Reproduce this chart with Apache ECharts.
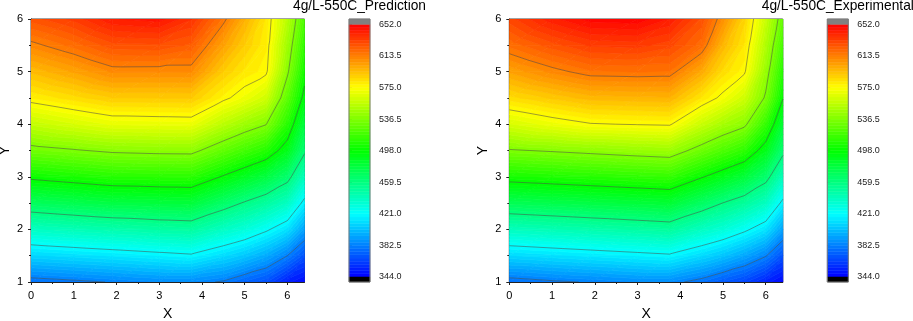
<!DOCTYPE html>
<html><head><meta charset="utf-8">
<script src="https://cdn.jsdelivr.net/npm/echarts@6/dist/echarts.min.js"></script>
<style>html,body{margin:0;padding:0;background:#fff}#c{width:913px;height:321px}</style>
</head><body><div id="c"></div>
<script>
// ---------------- data ----------------
const xNodes = [0, 1, 1.9, 3, 3.75, 4.5, 5, 5.5, 6, 6.4];
const yNodes = [1, 1.5, 2, 2.5, 3, 3.5, 4, 4.5, 5, 5.5, 6];
// rows follow yNodes (bottom to top), columns follow xNodes
const predictionValues = [
  [377.6, 380.3, 383.0, 386.0, 386.0, 381.3, 373.9, 367.8, 353.0, 347.0],
  [408.2, 411.1, 413.7, 417.0, 419.2, 410.4, 403.9, 395.5, 382.5, 368.5],
  [439.0, 442.5, 445.4, 448.4, 449.7, 438.5, 432.1, 423.2, 411.9, 392.6],
  [470.1, 473.9, 477.3, 479.1, 480.0, 466.7, 458.0, 449.9, 439.1, 416.7],
  [501.0, 505.0, 508.6, 509.7, 510.2, 496.6, 487.6, 478.6, 465.1, 440.3],
  [531.6, 535.3, 538.8, 540.2, 540.5, 526.5, 517.2, 508.2, 490.4, 462.3],
  [556.7, 562.9, 568.0, 568.8, 569.3, 554.0, 545.0, 537.1, 509.3, 477.8],
  [578.9, 584.9, 590.2, 590.4, 590.6, 577.5, 569.9, 560.8, 525.5, 493.3],
  [595.1, 602.6, 610.3, 610.1, 610.0, 590.3, 581.7, 577.0, 538.8, 503.7],
  [611.2, 619.0, 627.4, 628.2, 624.1, 603.0, 590.2, 579.5, 545.8, 511.9],
  [627.0, 634.0, 644.0, 646.0, 637.0, 616.0, 598.6, 582.0, 552.9, 520.0]
];
const experimentalValues = [
  [377.5, 380.9, 383.2, 386.1, 386.0, 378.3, 370.7, 364.3, 354.1, 346.0],
  [409.0, 411.8, 414.2, 417.1, 419.1, 409.8, 402.9, 394.2, 383.4, 368.2],
  [440.6, 443.2, 445.6, 448.6, 450.7, 439.3, 432.6, 423.8, 412.8, 392.9],
  [472.3, 474.9, 477.2, 479.9, 481.9, 468.4, 459.2, 451.1, 439.7, 417.5],
  [504.2, 506.5, 508.6, 511.3, 513.1, 499.2, 489.8, 480.6, 465.4, 441.4],
  [535.3, 537.8, 540.2, 543.1, 544.8, 530.2, 520.5, 511.0, 490.5, 463.8],
  [562.9, 569.4, 574.3, 575.6, 576.3, 558.3, 548.0, 539.7, 513.0, 481.6],
  [585.0, 591.2, 596.2, 597.1, 597.7, 582.1, 572.2, 560.5, 534.4, 498.8],
  [602.8, 610.9, 616.8, 617.5, 617.0, 600.5, 585.2, 576.6, 543.3, 508.5],
  [618.5, 627.2, 633.4, 634.3, 630.5, 619.0, 596.7, 582.2, 550.8, 518.3],
  [631.0, 643.0, 650.0, 651.0, 644.0, 628.0, 608.2, 587.7, 558.4, 528.0]
];
const xTickLabels = [0, 1, 2, 3, 4, 5, 6];
const yTickLabels = [1, 2, 3, 4, 5, 6];
const colorTickLabels = [344.0, 382.5, 421.0, 459.5, 498.0, 536.5, 575.0, 613.5, 652.0];
const titles = ['4g/L-550C_Prediction', '4g/L-550C_Experimental'];
const axisNames = ['X', 'Y'];

// ---------------- helpers ----------------
const FONT = "'Liberation Sans', Arial, Helvetica, sans-serif";
const LMIN = colorTickLabels[0], LMAX = colorTickLabels[colorTickLabels.length - 1];
const MAJOR = colorTickLabels[1] - colorTickLabels[0];
const SUB = 10;                     // fill levels per labelled interval
const STEP = MAJOR / SUB;
const contourLevels = colorTickLabels.slice(1, -1);
const CB_AXIS_MIN = 337.9, CB_AXIS_MAX = 658.5;

function rainbow(v) {
  if (v > LMAX) return '#808080';
  if (v < LMIN) return '#000000';
  const stops = [[0,0,255],[0,255,255],[0,255,0],[255,255,0],[255,0,0]];
  const s = Math.min(3.99999, Math.max(0, (v - LMIN) / (LMAX - LMIN) * 4));
  const i = Math.floor(s), f = s - i;
  const c = stops[i].map((a, k) => Math.round(a + (stops[i + 1][k] - a) * f));
  return 'rgb(' + c.join(',') + ')';
}
function bandColor(k) { return rainbow(LMIN + (k + 0.5) * STEP); }

function makeCells(values) {
  const cells = [];
  for (let j = 0; j < yNodes.length - 1; j++)
    for (let i = 0; i < xNodes.length - 1; i++)
      cells.push([xNodes[i], yNodes[j], xNodes[i + 1], yNodes[j + 1],
        values[j][i], values[j][i + 1], values[j + 1][i], values[j + 1][i + 1]]);
  return cells;
}
function clipPoly(poly, level, keepAbove) {
  const out = [];
  for (let i = 0; i < poly.length; i++) {
    const a = poly[i], b = poly[(i + 1) % poly.length];
    const ina = keepAbove ? a[2] >= level : a[2] <= level;
    const inb = keepAbove ? b[2] >= level : b[2] <= level;
    if (ina) out.push(a);
    if (ina !== inb) {
      const t = (level - a[2]) / (b[2] - a[2]);
      out.push([a[0] + (b[0] - a[0]) * t, a[1] + (b[1] - a[1]) * t, level]);
    }
  }
  return out;
}
function cellTriangles(api) {
  const x0 = api.value(0), y0 = api.value(1), x1 = api.value(2), y1 = api.value(3);
  const p = (x, y, v) => { const c = api.coord([x, y]); return [c[0], c[1], v]; };
  const A = p(x0, y0, api.value(4)), B = p(x1, y0, api.value(5));
  const C = p(x0, y1, api.value(6)), D = p(x1, y1, api.value(7));
  return [[A, B, D], [A, D, C]];
}
function renderFill(params, api) {
  const children = [];
  cellTriangles(api).forEach(tri => {
    const vs = tri.map(q => q[2]);
    const kmin = Math.floor((Math.min(...vs) - LMIN) / STEP);
    const kmax = Math.floor((Math.max(...vs) - LMIN) / STEP);
    for (let k = kmin; k <= kmax; k++) {
      const lo = LMIN + k * STEP, hi = lo + STEP;
      let poly = clipPoly(tri, lo, true);
      if (poly.length < 3) continue;
      poly = clipPoly(poly, hi, false);
      if (poly.length < 3) continue;
      const col = bandColor(k);
      children.push({ type: 'polygon', shape: { points: poly.map(q => [q[0], q[1]]) },
        style: { fill: col, stroke: col, lineWidth: 0.7 } });
    }
  });
  return { type: 'group', children };
}
function renderLines(params, api) {
  const children = [];
  cellTriangles(api).forEach(tri => {
    contourLevels.forEach(L => {
      const pts = [];
      for (let i = 0; i < 3; i++) {
        const a = tri[i], b = tri[(i + 1) % 3];
        if ((a[2] < L) !== (b[2] < L)) {
          const t = (L - a[2]) / (b[2] - a[2]);
          pts.push([a[0] + (b[0] - a[0]) * t, a[1] + (b[1] - a[1]) * t]);
        }
      }
      if (pts.length === 2)
        children.push({ type: 'line', shape: { x1: pts[0][0], y1: pts[0][1], x2: pts[1][0], y2: pts[1][1] },
          style: { stroke: 'rgba(70,70,70,0.75)', lineWidth: 0.7 } });
    });
  });
  return { type: 'group', children };
}
function colorbarItems() {
  const items = [];
  const n = Math.round((LMAX - LMIN) / STEP);
  for (let k = 0; k < n; k++) items.push([LMIN + k * STEP, LMIN + (k + 1) * STEP, k]);
  items.push([LMAX, CB_AXIS_MAX, 'over']);
  items.push([CB_AXIS_MIN, LMIN, 'under']);
  items.push([CB_AXIS_MIN, CB_AXIS_MAX, 'frame']);
  return items;
}
function renderColorbar(params, api) {
  const lo = api.value(0), hi = api.value(1);
  const tag = colorbarData[params.dataIndex][2];
  const p1 = api.coord([0, hi]), p2 = api.coord([1, lo]);
  const shape = { x: p1[0], y: p1[1], width: p2[0] - p1[0], height: p2[1] - p1[1] };
  if (tag === 'frame') return { type: 'rect', shape, style: { fill: 'none', stroke: '#7a7a7a', lineWidth: 1 } };
  let col;
  if (tag === 'over') col = '#808080';
  else if (tag === 'under') col = '#000000';
  else col = bandColor(tag);
  return { type: 'rect', shape, style: { fill: col, stroke: col, lineWidth: 0.5 } };
}
const colorbarData = colorbarItems();

// ---------------- layout ----------------
const panels = [
  { left: 31, values: predictionValues, title: titles[0] },
  { left: 509.3, values: experimentalValues, title: titles[1] }
];
const PLOT_W = 273.5, TOP = 19, H = 263, CB_OFF = 318, CB_W = 21;

const grid = [], xAxis = [], yAxis = [], series = [], graphic = [];
panels.forEach((pn, idx) => {
  const g = grid.length;
  grid.push({ left: pn.left, top: TOP, width: PLOT_W, height: H, show: true, borderColor: '#444', borderWidth: 1,
    backgroundColor: 'transparent', containLabel: false, outerBoundsMode: 'none' });
  grid.push({ left: pn.left + CB_OFF, top: TOP, width: CB_W, height: H, show: false,
    containLabel: false, outerBoundsMode: 'none' });
  xAxis.push({
    type: 'value', gridIndex: g, min: 0, max: 6.4, interval: 1,
    name: axisNames[0], nameLocation: 'middle', nameGap: 25,
    nameTextStyle: { fontSize: 14, color: '#000', fontFamily: FONT },
    axisLine: { show: true, onZero: false, lineStyle: { color: '#222', width: 1 } },
    axisTick: { show: true, inside: false, length: 3, customValues: xTickLabels, lineStyle: { color: '#222' } },
    minorTick: { show: true, splitNumber: 2, length: 2, lineStyle: { color: '#222' } },
    axisLabel: { customValues: xTickLabels, fontSize: 11, color: '#000', fontFamily: FONT, margin: 8 },
    splitLine: { show: false }
  });
  yAxis.push({
    type: 'value', gridIndex: g, min: 1, max: 6, interval: 1,
    name: axisNames[1], nameLocation: 'middle', nameGap: 19,
    nameTextStyle: { fontSize: 14, color: '#000', fontFamily: FONT },
    axisLine: { show: true, onZero: false, lineStyle: { color: '#222', width: 1 } },
    axisTick: { show: true, inside: false, length: 3, customValues: yTickLabels, lineStyle: { color: '#222' } },
    minorTick: { show: true, splitNumber: 2, length: 2, lineStyle: { color: '#222' } },
    axisLabel: { customValues: yTickLabels, fontSize: 11, color: '#000', fontFamily: FONT, margin: 8 },
    splitLine: { show: false }
  });
  xAxis.push({ type: 'value', gridIndex: g + 1, min: 0, max: 1, show: false });
  yAxis.push({
    type: 'value', gridIndex: g + 1, min: CB_AXIS_MIN, max: CB_AXIS_MAX, position: 'right',
    axisLine: { show: false },
    axisTick: { show: true, inside: false, length: 3, customValues: colorTickLabels, lineStyle: { color: '#666' } },
    axisLabel: { customValues: colorTickLabels, fontSize: 9, color: '#222', fontFamily: FONT, margin: 9,
      formatter: v => Number(v).toFixed(1) },
    splitLine: { show: false }
  });
  const cells = makeCells(pn.values);
  series.push({ type: 'custom', xAxisIndex: g, yAxisIndex: g, data: cells, clip: true, silent: true,
    encode: { x: [0, 2], y: [1, 3] }, renderItem: renderFill, z: 1 });
  series.push({ type: 'custom', xAxisIndex: g, yAxisIndex: g, data: cells, clip: true, silent: true,
    encode: { x: [0, 2], y: [1, 3] }, renderItem: renderLines, z: 2 });
  series.push({ type: 'custom', xAxisIndex: g + 1, yAxisIndex: g + 1, data: colorbarData.map(d => [d[0], d[1]]),
    silent: true, encode: { y: [0, 1] }, renderItem: renderColorbar, z: 1 });
  graphic.push({ type: 'text', x: pn.left + CB_OFF + CB_W / 2, y: -1, silent: true,
    style: { text: pn.title, fontSize: 13.75, fontFamily: FONT, fill: '#000', align: 'center', verticalAlign: 'top' } });
});

const chart = echarts.init(document.getElementById('c'), null, { renderer: 'canvas' });
chart.setOption({ animation: false, backgroundColor: '#fff', grid, xAxis, yAxis, series, graphic });
</script>
</body></html>
